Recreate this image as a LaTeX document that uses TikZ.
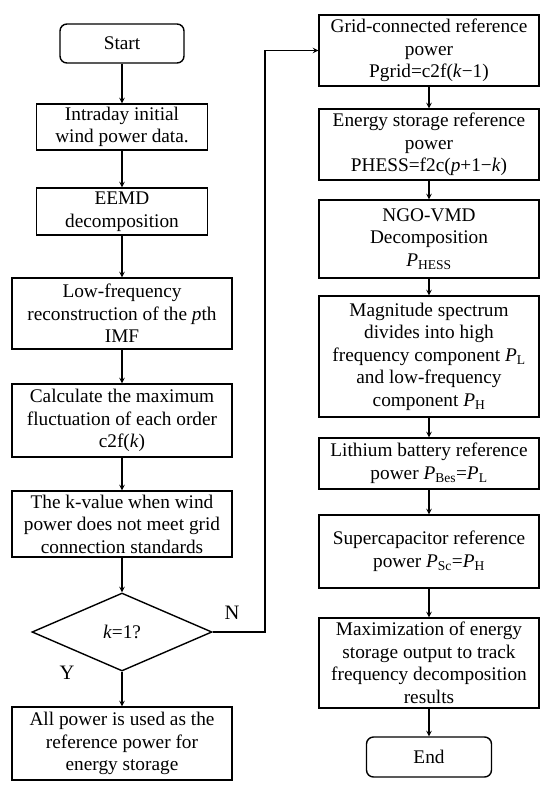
\documentclass[tikz,border=0pt]{standalone}
\usepackage{fontspec}
\setmainfont{Liberation Serif}
\usetikzlibrary{shapes.geometric}
\begin{document}
\begin{tikzpicture}[x=1pt,y=-1pt,
    every node/.style={font=\fontsize{19.3}{22.5}\selectfont},
    box/.style={draw,line width=1.4pt,align=center,inner sep=1pt,minimum width=220pt},
    termbox/.style={box,rounded corners=7pt,minimum width=124pt,minimum height=39pt},
    choice/.style={draw,line width=1.4pt,diamond,aspect=2.3,inner sep=0pt,minimum width=180pt,minimum height=78pt},
    flow/.style={->,>=stealth,line width=1.4pt}]
		\useasboundingbox (0,0) rectangle (550,793);
		% left column
		\node[termbox] (start) at (122,43.5) {Start};
		\node[box,minimum width=171pt,minimum height=46pt] (wind) at (122,127) {Intraday initial\\wind power data.};
		\node[box,minimum width=171pt,minimum height=47pt] (eemd) at (122,211.5) {EEMD\\decomposition};
		\node[box,minimum height=71pt] (lowf) at (122,313.5) {Low-frequency\\reconstruction of the \textit{p}th\\IMF};
		\node[box,minimum height=73pt] (fluct) at (122,420.5) {Calculate the maximum\\fluctuation of each order\\c2f(\textit{k})};
		\node[box,minimum height=66pt] (kval) at (122,524) {The k-value when wind\\power does not meet grid\\connection standards};
		\node[choice] (test) at (122,632) {\textit{k}=1?};
		\node[box,minimum height=73pt] (allpow) at (122,743.5) {All power is used as the\\reference power for\\energy storage};
		\node (yes) at (67,673) {\fontsize{20.5}{22}\selectfont Y};
		\node (no) at (232,613) {\fontsize{20.5}{22}\selectfont N};
		% right column
		\node[box,minimum height=71pt] (grid) at (429,50.5) {Grid-connected reference\\power\\Pgrid=c2f(\textit{k}−1)};
		\node[box,minimum height=71pt] (ess) at (429,144.5) {Energy storage reference\\power\\PHESS=f2c(\textit{p}+1−\textit{k})};
		\node[box,minimum height=78pt] (vmd) at (429,239) {NGO-VMD\\Decomposition\\\textit{P}\textsubscript{HESS}};
		\node[box,minimum height=121pt] (split) at (429,356.5) {Magnitude spectrum\\divides into high\\frequency component \textit{P}\textsubscript{L}\\and low-frequency\\component \textit{P}\textsubscript{H}};
		\node[box,minimum height=51pt] (bes) at (429,463.5) {Lithium battery reference\\power \textit{P}\textsubscript{Bes}=\textit{P}\textsubscript{L}};
		\node[box,minimum height=73pt] (sc) at (429,551.5) {Supercapacitor reference\\power \textit{P}\textsubscript{Sc}=\textit{P}\textsubscript{H}};
		\node[box,minimum height=90pt] (track) at (429,663) {Maximization of energy\\storage output to track\\frequency decomposition\\results};
		\node[termbox,minimum width=125pt,minimum height=40pt] (stop) at (429,757) {End};
		\coordinate (c1) at (265,632);
		\coordinate (c2) at (265,50.5);
		% links
		\draw[flow] (start) -- (wind);
		\draw[flow] (wind) -- (eemd);
		\draw[flow] (eemd) -- (lowf);
		\draw[flow] (lowf) -- (fluct);
		\draw[flow] (fluct) -- (kval);
		\draw[flow] (kval) -- (test);
		\draw[flow] (test) -- (allpow);
		\draw[flow] (test.east) -- (c1) -- (c2) -- (grid.west);
		\draw[flow] (grid) -- (ess);
		\draw[flow] (ess) -- (vmd);
		\draw[flow] (vmd) -- (split);
		\draw[flow] (split) -- (bes);
		\draw[flow] (bes) -- (sc);
		\draw[flow] (sc) -- (track);
		\draw[flow] (track) -- (stop);
\end{tikzpicture}
\end{document}
